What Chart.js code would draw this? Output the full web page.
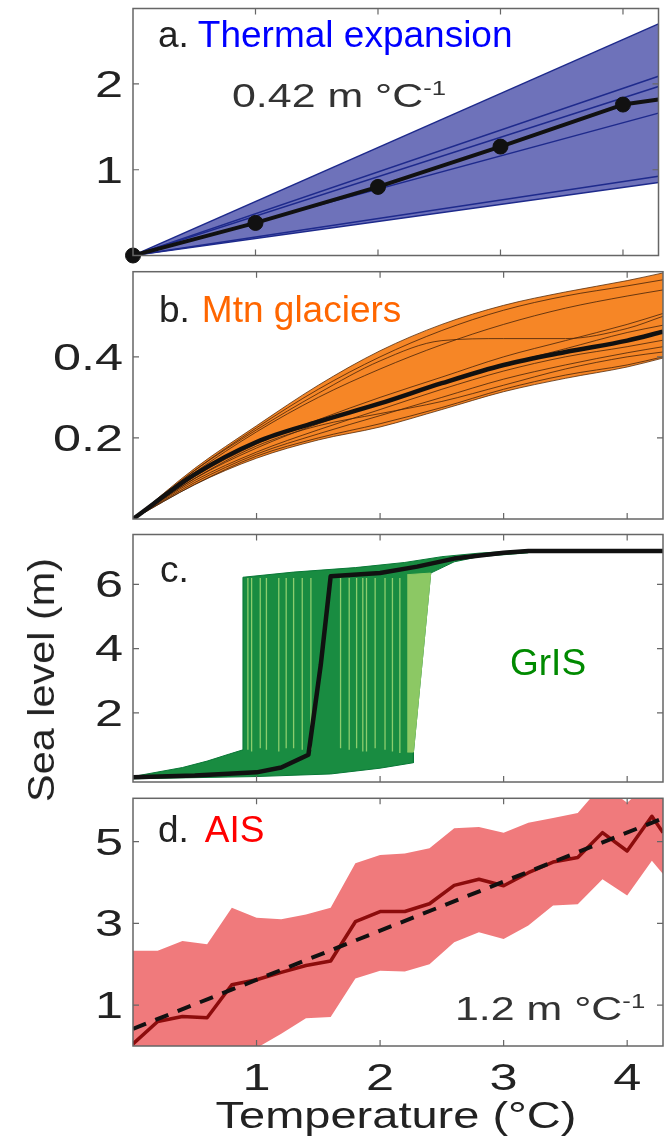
<!DOCTYPE html>
<html>
<head>
<meta charset="utf-8">
<script src="https://cdn.jsdelivr.net/npm/chart.js@4.4.1/dist/chart.umd.min.js"></script>
<style>
  html, body { margin: 0; padding: 0; background: #fff; }
  #fig { position: relative; width: 667px; height: 1136px; overflow: hidden; }
  #fig canvas { position: absolute; left: 0; }
  #ylabel {
    position: absolute; left: 42px; top: 680px;
    transform: translate(-50%, -50%) rotate(-90deg) scaleX(1.12);
    font: 37px 'Liberation Sans', Arial, sans-serif; color: #222; white-space: nowrap;
  }
</style>
</head>
<body>
<div id="fig">
  <canvas id="chartThermal" width="667" height="264" style="top:0"></canvas>
  <canvas id="chartGlaciers" width="667" height="264" style="top:264px"></canvas>
  <canvas id="chartGris" width="667" height="264" style="top:528px"></canvas>
  <canvas id="chartAis" width="667" height="344" style="top:792px"></canvas>
  <div id="ylabel">Sea level (m)</div>
</div>
<script>
// Eje de temperatura común (°C)
const TEMP_MAX = 4.29;
const tempTicks = [1, 2, 3, 4];

// a. Expansión térmica: media por grado y rectas de cada modelo (valor en TEMP_MAX)
const thermalTemps = [0, 1, 2, 3, 4, TEMP_MAX];
const thermalMean = [0, 0.38, 0.80, 1.27, 1.76, 1.82];
const thermalDotTemps = [0, 1, 2, 3, 4];
const thermalDots = [0, 0.38, 0.80, 1.27, 1.76];
const thermalModelEnds = [2.70, 2.09, 1.97, 1.66, 0.925, 0.85];
const thermalTicks = [1, 2];

// b. Glaciares de montaña
const glacierTemps = [0, 0.5, 1, 1.5, 2, 2.5, 3, 3.5, 4, TEMP_MAX];
const glacierUpper = [0, 0.125, 0.23, 0.33, 0.415, 0.48, 0.527, 0.56, 0.588, 0.607];
const glacierLower = [0, 0.085, 0.15, 0.195, 0.227, 0.27, 0.314, 0.347, 0.375, 0.397];
const glacierMean = [0, 0.11, 0.19, 0.24, 0.285, 0.335, 0.38, 0.412, 0.44, 0.462];
const glacierModels = [
  [0, 0.12, 0.225, 0.32, 0.40, 0.465, 0.515, 0.55, 0.575, 0.59],
  [0, 0.115, 0.215, 0.30, 0.37, 0.43, 0.48, 0.52, 0.55, 0.565],
  [0, 0.12, 0.22, 0.31, 0.39, 0.44, 0.445, 0.445, 0.47, 0.50],
  [0, 0.105, 0.185, 0.245, 0.30, 0.35, 0.40, 0.44, 0.48, 0.507],
  [0, 0.10, 0.175, 0.235, 0.285, 0.335, 0.38, 0.42, 0.46, 0.478],
  [0, 0.095, 0.165, 0.22, 0.27, 0.32, 0.365, 0.40, 0.425, 0.441],
  [0, 0.09, 0.16, 0.21, 0.255, 0.30, 0.345, 0.38, 0.41, 0.425],
  [0, 0.10, 0.18, 0.23, 0.26, 0.29, 0.33, 0.37, 0.40, 0.412],
  [0, 0.085, 0.155, 0.20, 0.235, 0.275, 0.32, 0.355, 0.38, 0.40]
];
const glacierTicks = [0.2, 0.4];

// c. Groenlandia: contorno del haz de modelos, saltos individuales y media
const grisEnvelope = [
  [0, 0.02], [0.4, 0.3], [0.6, 0.5], [0.78, 0.72], [0.89, 0.85], [0.89, 6.22],
  [1.3, 6.38], [1.8, 6.52], [2.2, 6.68], [2.5, 6.86], [2.8, 6.97], [3.2, 7.07],
  [3.2, 6.98], [2.8, 6.86], [2.6, 6.7], [2.41, 6.35], [2.27, 0.78], [2.27, 0.45],
  [2.0, 0.28], [1.6, 0.1], [1.0, 0.02], [0, -0.05]
];
const grisWedge = [[2.22, 0.78], [2.27, 0.78], [2.41, 6.35], [2.22, 6.3]];
const grisStreakTemps = [0.93, 0.96, 1.03, 1.08, 1.18, 1.24, 1.30, 1.37, 1.44, 1.68, 1.75, 1.81, 1.86, 1.89, 1.96, 2.04, 2.10, 2.16];
const grisStreakBase = [0.85, 0.8, 0.9, 0.85, 0.8, 0.9, 0.9, 0.85, 0.85, 0.9, 0.85, 0.9, 0.8, 0.8, 0.9, 0.85, 0.8, 0.75];
const GRIS_JUMP_TOP = 6.2;
const grisMeanTemps = [0, 0.5, 1.0, 1.2, 1.42, 1.52, 1.6, 2.0, 2.3, 2.6, 3.0, 3.2, TEMP_MAX];
const grisMean = [0, 0.05, 0.15, 0.3, 0.7, 3.5, 6.25, 6.35, 6.55, 6.8, 6.98, 7.04, 7.04];
const grisTicks = [2, 4, 6];

// d. Antártida: mediana, banda de incertidumbre y tendencia de 1.2 m/°C
const aisTemps = [0, 0.2, 0.4, 0.6, 0.8, 1.0, 1.2, 1.4, 1.6, 1.8, 2.0, 2.2, 2.4, 2.6, 2.8, 3.0, 3.2, 3.4, 3.6, 3.8, 4.0, 4.2, TEMP_MAX];
const aisMedian = [0.05, 0.6, 0.72, 0.69, 1.5, 1.62, 1.8, 1.97, 2.08, 3.04, 3.29, 3.29, 3.48, 3.93, 4.08, 3.92, 4.24, 4.5, 4.61, 5.22, 4.77, 5.62, 5.22];
const aisUpper = [2.33, 2.33, 2.57, 2.49, 3.38, 3.14, 3.10, 3.22, 3.38, 4.47, 4.67, 4.71, 4.84, 5.33, 5.36, 5.22, 5.46, 5.58, 5.70, 6.40, 5.95, 6.50, 6.30];
const aisLower = [-1.3, -1.0, -0.8, -0.6, -0.35, -0.05, 0.3, 0.68, 0.71, 1.65, 1.84, 1.82, 2.0, 2.54, 2.78, 2.62, 2.95, 3.44, 3.47, 4.08, 3.68, 4.53, 4.21];
const aisTrendTemps = [0, TEMP_MAX];
const aisTrend = [0.42, 5.57];
const aisTicks = [1, 3, 5];

const FONT = "'Liberation Sans', Arial, Helvetica, sans-serif";
const TICK_SIZE = 36;
const TICK_STRETCH = 1.4;

/**
 * Convierte dos listas en puntos {x, y}
 */
function toPoints(xs, ys) {
  return xs.map((x, i) => ({ x: x, y: ys[i] }));
}

function pairsToPoints(pairs) {
  return pairs.map(p => ({ x: p[0], y: p[1] }));
}

/**
 * Escribe un texto ensanchado horizontalmente; devuelve su ancho final
 */
function drawStretched(ctx, text, x, y, size, stretch, align, color) {
  ctx.save();
  ctx.font = size + 'px ' + FONT;
  const w = ctx.measureText(text).width * stretch;
  let left = x;
  if (align === 'right') left = x - w;
  if (align === 'center') left = x - w / 2;
  ctx.translate(left, y);
  ctx.scale(stretch, 1);
  ctx.fillStyle = color || '#222';
  ctx.textAlign = 'left';
  ctx.textBaseline = 'alphabetic';
  ctx.fillText(text, 0, 0);
  ctx.restore();
  return w;
}

/**
 * Caja del panel con marcas hacia dentro (estilo MATLAB)
 */
const panelBoxPlugin = {
  id: 'panelBox',
  afterDatasetsDraw(chart) {
    const { ctx, chartArea: a } = chart;
    const xs = chart.scales.x;
    const ys = chart.scales.y;
    const len = 6;
    ctx.save();
    ctx.strokeStyle = '#666';
    ctx.lineWidth = 1.5;
    ctx.strokeRect(a.left, a.top, a.right - a.left, a.bottom - a.top);
    ctx.lineWidth = 1.2;
    ctx.beginPath();
    xs.ticks.forEach(t => {
      const px = xs.getPixelForValue(t.value);
      ctx.moveTo(px, a.bottom); ctx.lineTo(px, a.bottom - len);
      ctx.moveTo(px, a.top); ctx.lineTo(px, a.top + len);
    });
    ys.ticks.forEach(t => {
      const py = ys.getPixelForValue(t.value);
      ctx.moveTo(a.left, py); ctx.lineTo(a.left + len, py);
      ctx.moveTo(a.right, py); ctx.lineTo(a.right - len, py);
    });
    ctx.stroke();
    ctx.restore();
  }
};

/**
 * Etiquetas de los ejes, colocadas con las escalas del gráfico
 */
const axisTextPlugin = {
  id: 'axisText',
  afterDraw(chart, args, opts) {
    const { ctx, chartArea: a } = chart;
    const xs = chart.scales.x;
    const ys = chart.scales.y;
    ys.ticks.forEach(t => {
      const py = ys.getPixelForValue(t.value);
      drawStretched(ctx, String(t.value), a.left - 10, py + TICK_SIZE * 0.358, TICK_SIZE, TICK_STRETCH, 'right');
    });
    if (!opts.showX) return;
    xs.ticks.forEach(t => {
      const px = xs.getPixelForValue(t.value);
      drawStretched(ctx, String(t.value), px, a.bottom + 44, TICK_SIZE, TICK_STRETCH, 'center');
    });
    drawStretched(ctx, opts.xTitle, (a.left + a.right) / 2 - 2, a.bottom + 82, 37, 1.27, 'center');
  }
};

/**
 * Textos dentro del panel (título coloreado, pendientes)
 */
const panelTextPlugin = {
  id: 'panelText',
  afterDraw(chart, args, opts) {
    const ctx = chart.ctx;
    (opts.items || []).forEach(item => {
      let x = item.x;
      const stretch = item.stretch || 1;
      item.parts.forEach(p => {
        const size = p.sup ? item.size * 0.6 : item.size;
        const y = item.y - (p.sup ? item.size * 0.36 : 0);
        x += drawStretched(ctx, p.text, x, y, size, stretch, 'left', p.color) + (p.gap || 0);
      });
    });
  }
};

/**
 * Crea un panel con la configuración común
 */
function makePanel(id, cfg) {
  const canvas = document.getElementById(id);
  return new Chart(canvas.getContext('2d'), {
    type: 'line',
    data: { datasets: cfg.datasets },
    options: {
      responsive: false,
      animation: false,
      devicePixelRatio: 1,
      layout: { padding: { top: cfg.padTop, bottom: cfg.padBottom, left: 0, right: 4 } },
      elements: { point: { radius: 0 }, line: { borderJoinStyle: 'round' } },
      plugins: {
        legend: { display: false },
        tooltip: { enabled: false },
        panelText: { items: cfg.texts },
        axisText: { showX: !!cfg.showX, xTitle: 'Temperature (°C)' }
      },
      scales: {
        x: {
          type: 'linear',
          min: 0,
          max: TEMP_MAX,
          afterBuildTicks: s => { s.ticks = tempTicks.map(v => ({ value: v })); },
          afterFit: s => {
            s.height = cfg.showX ? 90 : 0;
            s.paddingLeft = 0; s.paddingRight = 0;
          },
          grid: { display: false },
          border: { display: false },
          ticks: { display: false }
        },
        y: {
          type: 'linear',
          min: cfg.yMin,
          max: cfg.yMax,
          afterBuildTicks: s => { s.ticks = cfg.yTicks.map(v => ({ value: v })); },
          afterFit: s => {
            s.width = 133;
            s.paddingTop = 0; s.paddingBottom = 0;
          },
          grid: { display: false },
          border: { display: false },
          ticks: { display: false }
        }
      }
    },
    plugins: [panelBoxPlugin, axisTextPlugin, panelTextPlugin]
  });
}

// a. Expansión térmica
const thermalDatasets = [];
thermalModelEnds.forEach((v, i) => {
  const isUpper = i === 0;
  thermalDatasets.push({
    data: toPoints([0, TEMP_MAX], [0, v]),
    borderColor: '#1e2a8c',
    borderWidth: 1.5,
    backgroundColor: 'rgb(110, 114, 186)',
    fill: isUpper ? thermalModelEnds.length - 1 : false,
    order: isUpper ? 4 : 3
  });
});
thermalDatasets.push({
  data: toPoints(thermalTemps, thermalMean),
  borderColor: '#111',
  borderWidth: 4,
  fill: false,
  order: 1
});
thermalDatasets.push({
  data: toPoints(thermalDotTemps, thermalDots),
  showLine: false,
  pointRadius: 7.5,
  pointBackgroundColor: '#111',
  pointBorderColor: '#111',
  clip: false,
  order: 0
});

makePanel('chartThermal', {
  yMin: 0, yMax: 2.88, yTicks: thermalTicks, padTop: 8, padBottom: 8,
  datasets: thermalDatasets,
  texts: [
    { x: 158, y: 47, size: 37, parts: [{ text: 'a.', color: '#222', gap: 9 }, { text: 'Thermal expansion', color: '#0000ff' }] },
    { x: 232, y: 107, size: 33, stretch: 1.3, parts: [
      { text: '0.42 m °C', color: '#333' }, { text: '-1', color: '#333', sup: true }
    ] }
  ]
});

// b. Glaciares de montaña
const glacierDatasets = [
  {
    data: toPoints(glacierTemps, glacierUpper),
    borderColor: 'rgba(90, 45, 10, 0.8)', borderWidth: 1,
    backgroundColor: 'rgb(246, 134, 38)', fill: 1, order: 6,
    cubicInterpolationMode: 'monotone'
  },
  {
    data: toPoints(glacierTemps, glacierLower),
    borderColor: 'rgba(90, 45, 10, 0.8)', borderWidth: 1, fill: false, order: 5,
    cubicInterpolationMode: 'monotone'
  }
];
glacierModels.forEach(m => {
  glacierDatasets.push({
    data: toPoints(glacierTemps, m),
    borderColor: 'rgba(70, 35, 10, 0.8)', borderWidth: 1, fill: false, order: 3,
    cubicInterpolationMode: 'monotone'
  });
});
glacierDatasets.push({
  data: toPoints(glacierTemps, glacierMean),
  borderColor: '#111', borderWidth: 4.5, fill: false, order: 1,
  cubicInterpolationMode: 'monotone'
});

makePanel('chartGlaciers', {
  yMin: 0, yMax: 0.61, yTicks: glacierTicks, padTop: 7.7, padBottom: 9,
  datasets: glacierDatasets,
  texts: [
    { x: 159, y: 58, size: 37, parts: [{ text: 'b.', color: '#222', gap: 12 }, { text: 'Mtn glaciers', color: '#ff6600' }] }
  ]
});

// c. Groenlandia
const grisDatasets = [
  {
    data: pairsToPoints(grisEnvelope),
    borderColor: 'rgb(10, 120, 55)', borderWidth: 1,
    backgroundColor: 'rgb(25, 140, 65)', fill: 'shape', order: 6
  },
  {
    data: pairsToPoints(grisWedge),
    borderColor: 'rgb(140, 200, 100)', borderWidth: 1,
    backgroundColor: 'rgb(140, 200, 100)', fill: 'shape', order: 5
  }
];
grisStreakTemps.forEach((t, i) => {
  grisDatasets.push({
    data: toPoints([t, t], [grisStreakBase[i], GRIS_JUMP_TOP]),
    borderColor: 'rgb(140, 205, 110)', borderWidth: 1.3, fill: false, order: 3
  });
});
grisDatasets.push({
  data: toPoints(grisMeanTemps, grisMean),
  borderColor: '#111', borderWidth: 4.5, fill: false, order: 1
});

makePanel('chartGris', {
  yMin: -0.15, yMax: 7.55, yTicks: grisTicks, padTop: 6.5, padBottom: 10,
  datasets: grisDatasets,
  texts: [
    { x: 160, y: 54, size: 37, parts: [{ text: 'c.', color: '#222' }] },
    { x: 510, y: 147, size: 37, parts: [{ text: 'GrIS', color: '#008a00' }] }
  ]
});

// d. Antártida
makePanel('chartAis', {
  yMin: 0, yMax: 6.06, yTicks: aisTicks, padTop: 6.3, padBottom: 0, showX: true,
  datasets: [
    {
      data: toPoints(aisTemps, aisUpper),
      borderWidth: 0, borderColor: 'rgba(0,0,0,0)',
      backgroundColor: 'rgb(240, 122, 124)', fill: 1, order: 6
    },
    {
      data: toPoints(aisTemps, aisLower),
      borderWidth: 0, borderColor: 'rgba(0,0,0,0)', fill: false, order: 5
    },
    {
      data: toPoints(aisTemps, aisMedian),
      borderColor: 'rgb(140, 12, 12)', borderWidth: 3.5, fill: false, order: 2
    },
    {
      data: toPoints(aisTrendTemps, aisTrend),
      borderColor: '#111', borderWidth: 4, borderDash: [14, 10], fill: false, order: 1
    }
  ],
  texts: [
    { x: 158, y: 50, size: 37, parts: [{ text: 'd.', color: '#222', gap: 16 }, { text: 'AIS', color: '#ff0000' }] },
    { x: 455, y: 228, size: 33, stretch: 1.3, parts: [
      { text: '1.2 m °C', color: '#333' }, { text: '-1', color: '#333', sup: true }
    ] }
  ]
});
</script>
</body>
</html>
